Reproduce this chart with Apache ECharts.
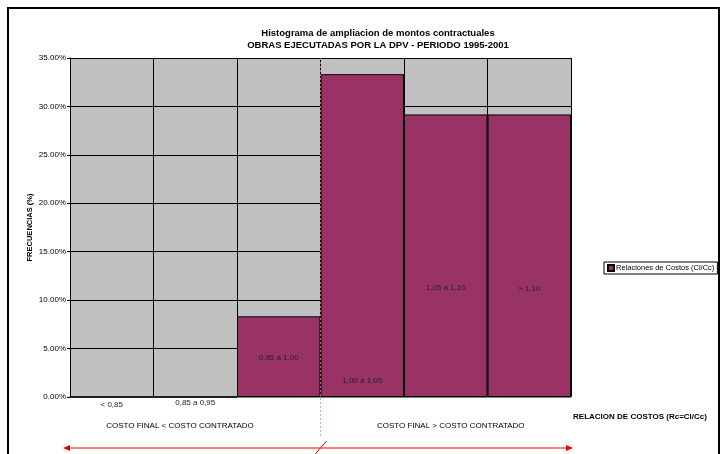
<!DOCTYPE html>
<html>
<head>
<meta charset="utf-8">
<script src="https://cdn.jsdelivr.net/npm/echarts@6/dist/echarts.min.js"></script>
<style>
  html, body { margin: 0; padding: 0; background: #fff; }
  #chart { width: 722px; height: 454px; }
</style>
</head>
<body>
<div id="chart"></div>
<script>
// Cost-ratio classes (final cost / contracted cost)
const categories = ['< 0,85', '0,85 a 0,95', '0,95 a 1,00', '1,00 a 1,05', '1,05 a 1,10', '> 1,10'];
// Frequency of works in each class, in percent
const frequencies = [0, 0, 8.33, 33.33, 29.17, 29.17];
const yTicks = { min: 0, max: 35, step: 5 };
const seriesName = 'Relaciones de Costos (Cl/Cc)';
const titleLines = ['Histograma de ampliacion de montos contractuales', 'OBRAS EJECUTADAS POR LA DPV - PERIODO 1995-2001'];
const yTitle = 'FRECUENCIAS (%)';
const xTitle = 'RELACION DE COSTOS (Rc=Cl/Cc)';
const sideNotes = ['COSTO FINAL < COSTO CONTRATADO', 'COSTO FINAL > COSTO CONTRATADO'];

const FONT = '"Liberation Sans", Arial, sans-serif';
const chart = echarts.init(document.getElementById('chart'), null, { renderer: 'canvas' });

// where each class label sits relative to its bar
const labelPlacement = [
  { position: 'bottom', distance: 3 },
  { position: 'bottom', distance: 1 },
  { position: 'insideBottom', distance: 35 },
  { position: 'insideBottom', distance: 12 },
  { position: 'insideBottom', distance: 105 },
  { position: 'insideBottom', distance: 104 }
];

const barData = frequencies.map((v, i) => ({
  value: v,
  label: Object.assign({ formatter: categories[i] }, labelPlacement[i])
}));

chart.setOption({
  animation: false,
  textStyle: { fontFamily: FONT },
  title: {
    text: titleLines.join('\n'),
    left: 373,
    top: 22,
    textAlign: 'center',
    textStyle: { fontSize: 9.5, fontWeight: 'bold', color: '#000', lineHeight: 12, fontFamily: FONT }
  },
  legend: {
    data: [seriesName],
    left: 604,
    top: 262,
    orient: 'vertical',
    itemWidth: 6,
    itemHeight: 6,
    itemGap: 2,
    padding: [2, 3, 2, 3],
    borderColor: '#000',
    borderWidth: 1,
    backgroundColor: '#fff',
    textStyle: { fontSize: 7.5, color: '#000', fontFamily: FONT, padding: [0, 0, 0, -3] },
    icon: 'rect'
  },
  grid: {
    left: 70, right: 151, top: 58, bottom: 57,
    show: true,
    backgroundColor: '#c0c0c0',
    borderWidth: 0
  },
  xAxis: {
    type: 'category',
    data: categories,
    boundaryGap: true,
    axisLine: { show: true, lineStyle: { color: '#808080', width: 2 } },
    axisTick: { show: false },
    axisLabel: { show: false },
    splitLine: { show: true, lineStyle: { color: '#000', width: 1 } }
  },
  yAxis: {
    type: 'value',
    min: yTicks.min,
    max: yTicks.max,
    interval: yTicks.step,
    axisLine: { show: true, lineStyle: { color: '#000', width: 1 } },
    axisTick: { show: true, length: 3, lineStyle: { color: '#000' } },
    axisLabel: {
      fontSize: 8, color: '#000', margin: 4,
      formatter: v => v.toFixed(2) + '%'
    },
    splitLine: { show: true, lineStyle: { color: '#000', width: 1 } }
  },
  series: [{
    name: seriesName,
    type: 'bar',
    data: barData,
    barCategoryGap: 0,
    itemStyle: { color: '#993366', borderColor: '#000', borderWidth: 1 },
    label: { show: true, fontSize: 8, color: '#222', fontFamily: FONT }
  }]
});

// Annotations: axis title, divider at ratio 1,00, side notes and the double arrow below
function drawNotes() {
  const w = chart.getWidth();
  const h = chart.getHeight();
  const left = chart.convertToPixel({ xAxisIndex: 0 }, categories[0]);
  const right = chart.convertToPixel({ xAxisIndex: 0 }, categories[categories.length - 1]);
  const step = (right - left) / (categories.length - 1);
  const x0 = left - step / 2;
  const x1 = right + step / 2;
  const xMid = chart.convertToPixel({ xAxisIndex: 0 }, categories[3]) - step / 2;
  const yTop = chart.convertToPixel({ yAxisIndex: 0 }, yTicks.max);
  const yBase = chart.convertToPixel({ yAxisIndex: 0 }, yTicks.min);
  const arrowY = yBase + 51;

  const label = (t, x, y, bold, size) => ({
    type: 'text', x, y,
    style: { text: t, fill: '#000', font: (bold ? 'bold ' : '') + size + 'px ' + FONT, textAlign: 'center', textVerticalAlign: 'middle' }
  });

  const yName = label(yTitle, 30, (yTop + yBase) / 2, true, 7.5);
  yName.rotation = Math.PI / 2;

  chart.setOption({
    graphic: [
      { type: 'rect', shape: { x: 8, y: 8, width: w - 11, height: h + 10 }, style: { fill: null, stroke: '#000', lineWidth: 2 }, silent: true },
      yName,
      { type: 'line', shape: { x1: xMid, y1: yTop, x2: xMid, y2: yBase + 39 }, style: { stroke: '#ff8080', lineWidth: 0.8, lineDash: [2, 2] }, z: 100 },
      label(xTitle, 640, yBase + 20, true, 8),
      label(sideNotes[0], 180, yBase + 29, false, 8),
      label(sideNotes[1], (xMid + x1) / 2 + 5, yBase + 29, false, 8),
      { type: 'line', shape: { x1: x0 - 2, y1: arrowY, x2: xMid, y2: arrowY }, style: { stroke: '#ee0000', lineWidth: 1 } },
      { type: 'line', shape: { x1: xMid, y1: arrowY, x2: x1, y2: arrowY }, style: { stroke: '#ff5555', lineWidth: 1.6 } },
      { type: 'polygon', shape: { points: [[x0 - 7, arrowY], [x0, arrowY - 3], [x0, arrowY + 3]] }, style: { fill: '#ee0000' } },
      { type: 'polygon', shape: { points: [[x1 + 2, arrowY], [x1 - 5, arrowY - 3], [x1 - 5, arrowY + 3]] }, style: { fill: '#ee0000' } },
      { type: 'line', shape: { x1: xMid - 6, y1: arrowY + 7, x2: xMid + 6, y2: arrowY - 7 }, style: { stroke: '#ee0000', lineWidth: 1 } }
    ]
  });
}
drawNotes();
</script>
</body>
</html>
